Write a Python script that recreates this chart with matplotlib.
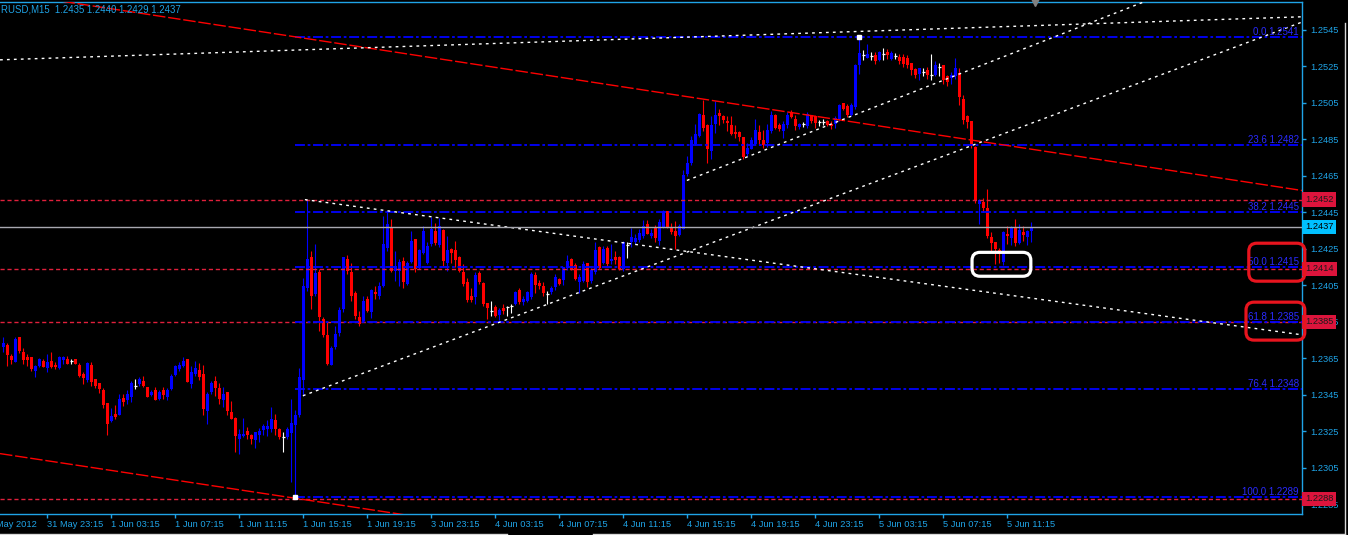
import matplotlib.pyplot as plt
import matplotlib.transforms as mtransforms
from matplotlib.patches import FancyBboxPatch
from matplotlib.lines import Line2D

# M15 candles, oldest first
opens = [
    1.23710, 1.23723, 1.23665, 1.23632, 1.23765, 1.23687, 1.23657, 1.23657, 1.23583, 1.23606,
    1.23637, 1.23595, 1.23636, 1.23616, 1.23595, 1.23643, 1.23646, 1.23634, 1.23646, 1.23614,
    1.23565, 1.23534, 1.23614, 1.23537, 1.23514, 1.23477, 1.23406, 1.23304, 1.23346, 1.23341,
    1.23433, 1.23422, 1.23439, 1.23501, 1.23510, 1.23526, 1.23492, 1.23450, 1.23477, 1.23428,
    1.23477, 1.23439, 1.23483, 1.23561, 1.23592, 1.23606, 1.23646, 1.23510, 1.23565, 1.23586,
    1.23565, 1.23364, 1.23464, 1.23526, 1.23488, 1.23422, 1.23468, 1.23355, 1.23322, 1.23209,
    1.23222, 1.23250, 1.23228, 1.23201, 1.23232, 1.23256, 1.23261, 1.23261, 1.23310, 1.23261,
    1.23219, 1.23219, 1.23243, 1.23283, 1.23338, 1.23534, 1.24033, 1.24203, 1.24002, 1.24124,
    1.23866, 1.23778, 1.23611, 1.23711, 1.23789, 1.23920, 1.24194, 1.24124, 1.24008, 1.23875,
    1.23857, 1.23975, 1.23902, 1.24015, 1.23990, 1.24048, 1.24257, 1.24372, 1.24130, 1.24130,
    1.24185, 1.24057, 1.24179, 1.24303, 1.24143, 1.24226, 1.24172, 1.24276, 1.24348, 1.24270,
    1.24354, 1.24175, 1.24252, 1.24243, 1.24203, 1.24124, 1.24070, 1.23990, 1.23984, 1.24117,
    1.24063, 1.23953, 1.23911, 1.23930, 1.23888, 1.23924, 1.23930, 1.23935, 1.23948, 1.24026,
    1.23957, 1.23966, 1.23984, 1.24108, 1.24061, 1.24048, 1.24002, 1.24012, 1.24039, 1.24084,
    1.24079, 1.24144, 1.24194, 1.24163, 1.24066, 1.24075, 1.24175, 1.24072, 1.24121, 1.24261,
    1.24175, 1.24254, 1.24181, 1.24206, 1.24203, 1.24139, 1.24272, 1.24285, 1.24290, 1.24297,
    1.24321, 1.24385, 1.24321, 1.24370, 1.24294, 1.24370, 1.24458, 1.24367, 1.24348, 1.24327,
    1.24358, 1.24658, 1.24722, 1.24826, 1.24867, 1.24982, 1.24931, 1.24785, 1.24935, 1.24995,
    1.24977, 1.24953, 1.24931, 1.24891, 1.24891, 1.24862, 1.24771, 1.24800, 1.24826, 1.24891,
    1.24849, 1.24831, 1.24895, 1.24982, 1.24931, 1.24898, 1.24931, 1.25000, 1.24964, 1.24916,
    1.24934, 1.24922, 1.24982, 1.24976, 1.24945, 1.24943, 1.24949, 1.24934, 1.24934, 1.24964,
    1.25049, 1.25031, 1.24985, 1.25025, 1.25255, 1.25313, 1.25295, 1.25309, 1.25313, 1.25286,
    1.25317, 1.25331, 1.25291, 1.25309, 1.25304, 1.25304, 1.25295, 1.25268, 1.25237, 1.25208,
    1.25218, 1.25231, 1.25204, 1.25204, 1.25249, 1.25258, 1.25195, 1.25186, 1.25195, 1.25213,
    1.25073, 1.24976, 1.24949, 1.24807, 1.24494, 1.24508, 1.24475, 1.24315, 1.24290, 1.24243,
    1.24180, 1.24333, 1.24312, 1.24372, 1.24284, 1.24344, 1.24315, 1.24348,
]
highs = [
    1.23765, 1.23734, 1.23674, 1.23765, 1.23765, 1.23705, 1.23674, 1.23657, 1.23614, 1.23650,
    1.23646, 1.23676, 1.23687, 1.23628, 1.23661, 1.23665, 1.23665, 1.23646, 1.23646, 1.23625,
    1.23574, 1.23628, 1.23628, 1.23537, 1.23514, 1.23486, 1.23406, 1.23377, 1.23395, 1.23455,
    1.23455, 1.23479, 1.23528, 1.23537, 1.23550, 1.23552, 1.23492, 1.23479, 1.23492, 1.23479,
    1.23492, 1.23488, 1.23565, 1.23614, 1.23632, 1.23656, 1.23646, 1.23610, 1.23634, 1.23625,
    1.23614, 1.23468, 1.23528, 1.23552, 1.23514, 1.23492, 1.23468, 1.23419, 1.23328, 1.23264,
    1.23322, 1.23273, 1.23237, 1.23247, 1.23269, 1.23292, 1.23310, 1.23383, 1.23347, 1.23268,
    1.23247, 1.23274, 1.23429, 1.23365, 1.23596, 1.24093, 1.24520, 1.24239, 1.24276, 1.24139,
    1.23875, 1.23851, 1.23720, 1.23829, 1.23930, 1.24203, 1.24215, 1.24175, 1.24021, 1.23911,
    1.23993, 1.23990, 1.24030, 1.24048, 1.24066, 1.24430, 1.24458, 1.24412, 1.24239, 1.24194,
    1.24203, 1.24185, 1.24348, 1.24303, 1.24248, 1.24375, 1.24285, 1.24426, 1.24394, 1.24421,
    1.24361, 1.24321, 1.24257, 1.24294, 1.24212, 1.24166, 1.24088, 1.24033, 1.24121, 1.24130,
    1.24070, 1.23953, 1.23966, 1.23942, 1.23924, 1.23948, 1.23939, 1.23948, 1.24021, 1.24033,
    1.23993, 1.24021, 1.24121, 1.24121, 1.24079, 1.24066, 1.24021, 1.24048, 1.24112, 1.24093,
    1.24152, 1.24217, 1.24199, 1.24170, 1.24115, 1.24185, 1.24175, 1.24144, 1.24290, 1.24266,
    1.24266, 1.24266, 1.24276, 1.24239, 1.24212, 1.24294, 1.24285, 1.24363, 1.24330, 1.24358,
    1.24407, 1.24407, 1.24358, 1.24381, 1.24412, 1.24461, 1.24458, 1.24394, 1.24403, 1.24385,
    1.24680, 1.24758, 1.24867, 1.24935, 1.24995, 1.25068, 1.24935, 1.24977, 1.25059, 1.25019,
    1.24986, 1.24977, 1.24977, 1.24931, 1.24898, 1.24862, 1.24831, 1.24862, 1.24964, 1.24931,
    1.24904, 1.24935, 1.25004, 1.24989, 1.24940, 1.24949, 1.25000, 1.25013, 1.24985, 1.24940,
    1.24945, 1.25000, 1.24982, 1.24982, 1.24958, 1.24962, 1.24958, 1.24949, 1.24976, 1.25044,
    1.25049, 1.25044, 1.25049, 1.25262, 1.25410, 1.25340, 1.25371, 1.25328, 1.25328, 1.25335,
    1.25353, 1.25346, 1.25335, 1.25322, 1.25317, 1.25317, 1.25313, 1.25268, 1.25244, 1.25244,
    1.25240, 1.25249, 1.25317, 1.25280, 1.25268, 1.25258, 1.25204, 1.25222, 1.25295, 1.25240,
    1.25091, 1.24982, 1.24953, 1.24812, 1.24521, 1.24530, 1.24576, 1.24344, 1.24290, 1.24254,
    1.24348, 1.24375, 1.24375, 1.24412, 1.24384, 1.24375, 1.24352, 1.24400,
]
lows = [
    1.23683, 1.23610, 1.23619, 1.23628, 1.23679, 1.23619, 1.23610, 1.23583, 1.23550, 1.23601,
    1.23601, 1.23574, 1.23595, 1.23592, 1.23592, 1.23619, 1.23619, 1.23619, 1.23619, 1.23546,
    1.23510, 1.23519, 1.23501, 1.23486, 1.23461, 1.23377, 1.23231, 1.23300, 1.23319, 1.23337,
    1.23388, 1.23401, 1.23413, 1.23483, 1.23501, 1.23492, 1.23439, 1.23443, 1.23422, 1.23421,
    1.23428, 1.23422, 1.23474, 1.23555, 1.23583, 1.23601, 1.23519, 1.23486, 1.23552, 1.23534,
    1.23341, 1.23291, 1.23455, 1.23446, 1.23401, 1.23382, 1.23337, 1.23319, 1.23137, 1.23128,
    1.23219, 1.23206, 1.23182, 1.23156, 1.23192, 1.23228, 1.23225, 1.23247, 1.23232, 1.23210,
    1.23137, 1.23210, 1.22974, 1.22885, 1.23329, 1.23443, 1.24021, 1.23920, 1.23993, 1.23802,
    1.23766, 1.23611, 1.23611, 1.23702, 1.23775, 1.23906, 1.24112, 1.23966, 1.23866, 1.23829,
    1.23848, 1.23906, 1.23870, 1.23975, 1.23975, 1.24039, 1.24239, 1.24121, 1.24075, 1.24048,
    1.24033, 1.24052, 1.24172, 1.24121, 1.24139, 1.24221, 1.24166, 1.24266, 1.24270, 1.24263,
    1.24157, 1.24130, 1.24175, 1.24148, 1.24121, 1.24048, 1.23961, 1.23961, 1.23948, 1.24057,
    1.23939, 1.23866, 1.23884, 1.23875, 1.23862, 1.23893, 1.23884, 1.23899, 1.23942, 1.23948,
    1.23944, 1.23957, 1.23975, 1.24006, 1.24030, 1.23993, 1.23948, 1.24002, 1.24024, 1.24053,
    1.24053, 1.24134, 1.24134, 1.24079, 1.24006, 1.24066, 1.24043, 1.24061, 1.24115, 1.24139,
    1.24166, 1.24157, 1.24166, 1.24166, 1.24134, 1.24130, 1.24199, 1.24261, 1.24276, 1.24290,
    1.24312, 1.24330, 1.24308, 1.24285, 1.24272, 1.24367, 1.24367, 1.24334, 1.24248, 1.24321,
    1.24358, 1.24649, 1.24709, 1.24818, 1.24862, 1.24895, 1.24722, 1.24740, 1.24886, 1.24931,
    1.24940, 1.24895, 1.24876, 1.24858, 1.24840, 1.24745, 1.24758, 1.24795, 1.24822, 1.24818,
    1.24804, 1.24807, 1.24886, 1.24909, 1.24898, 1.24858, 1.24912, 1.24967, 1.24903, 1.24909,
    1.24916, 1.24912, 1.24940, 1.24912, 1.24925, 1.24931, 1.24922, 1.24909, 1.24912, 1.24953,
    1.25013, 1.24971, 1.24976, 1.25018, 1.25208, 1.25286, 1.25295, 1.25286, 1.25262, 1.25280,
    1.25286, 1.25291, 1.25286, 1.25289, 1.25262, 1.25249, 1.25244, 1.25204, 1.25189, 1.25177,
    1.25200, 1.25182, 1.25177, 1.25200, 1.25195, 1.25153, 1.25140, 1.25153, 1.25182, 1.25036,
    1.24934, 1.24912, 1.24803, 1.24503, 1.24388, 1.24454, 1.24312, 1.24239, 1.24166, 1.24170,
    1.24162, 1.24275, 1.24272, 1.24266, 1.24275, 1.24293, 1.24272, 1.24290,
]
closes = [
    1.23734, 1.23668, 1.23641, 1.23756, 1.23688, 1.23641, 1.23641, 1.23592, 1.23606, 1.23646,
    1.23605, 1.23628, 1.23605, 1.23605, 1.23657, 1.23657, 1.23619, 1.23634, 1.23619, 1.23552,
    1.23543, 1.23625, 1.23523, 1.23501, 1.23483, 1.23392, 1.23291, 1.23333, 1.23328, 1.23428,
    1.23410, 1.23455, 1.23515, 1.23501, 1.23537, 1.23501, 1.23439, 1.23468, 1.23422, 1.23464,
    1.23450, 1.23477, 1.23552, 1.23606, 1.23614, 1.23637, 1.23519, 1.23577, 1.23599, 1.23550,
    1.23373, 1.23455, 1.23515, 1.23488, 1.23428, 1.23455, 1.23362, 1.23319, 1.23222, 1.23233,
    1.23237, 1.23231, 1.23206, 1.23247, 1.23250, 1.23279, 1.23279, 1.23319, 1.23261, 1.23219,
    1.23219, 1.23261, 1.23298, 1.23338, 1.23547, 1.24048, 1.24194, 1.23993, 1.24117, 1.23875,
    1.23778, 1.23620, 1.23706, 1.23784, 1.23917, 1.24203, 1.24130, 1.23990, 1.23884, 1.23839,
    1.23966, 1.23911, 1.24024, 1.24002, 1.24044, 1.24276, 1.24385, 1.24130, 1.24157, 1.24179,
    1.24070, 1.24175, 1.24294, 1.24139, 1.24243, 1.24348, 1.24266, 1.24357, 1.24281, 1.24375,
    1.24185, 1.24245, 1.24226, 1.24190, 1.24130, 1.24057, 1.23971, 1.23971, 1.24106, 1.24070,
    1.23948, 1.23924, 1.23911, 1.23884, 1.23917, 1.23911, 1.23930, 1.23935, 1.24011, 1.23957,
    1.23975, 1.24012, 1.24115, 1.24053, 1.24048, 1.24006, 1.24002, 1.24035, 1.24097, 1.24057,
    1.24148, 1.24185, 1.24139, 1.24084, 1.24097, 1.24166, 1.24066, 1.24134, 1.24243, 1.24144,
    1.24248, 1.24166, 1.24194, 1.24188, 1.24139, 1.24285, 1.24272, 1.24316, 1.24312, 1.24339,
    1.24376, 1.24334, 1.24339, 1.24312, 1.24399, 1.24458, 1.24370, 1.24345, 1.24321, 1.24376,
    1.24654, 1.24722, 1.24844, 1.24880, 1.24989, 1.24913, 1.24795, 1.24931, 1.24982, 1.24977,
    1.24958, 1.24940, 1.24880, 1.24880, 1.24862, 1.24753, 1.24804, 1.24844, 1.24904, 1.24849,
    1.24818, 1.24904, 1.24986, 1.24913, 1.24909, 1.24934, 1.24985, 1.24971, 1.24922, 1.24934,
    1.24934, 1.24989, 1.24949, 1.24940, 1.24945, 1.24943, 1.24927, 1.24922, 1.24967, 1.25040,
    1.25018, 1.24982, 1.25040, 1.25255, 1.25322, 1.25313, 1.25317, 1.25309, 1.25280, 1.25328,
    1.25317, 1.25313, 1.25322, 1.25309, 1.25277, 1.25262, 1.25255, 1.25231, 1.25204, 1.25240,
    1.25218, 1.25204, 1.25204, 1.25258, 1.25249, 1.25177, 1.25167, 1.25204, 1.25240, 1.25080,
    1.24958, 1.24945, 1.24812, 1.24512, 1.24516, 1.24475, 1.24321, 1.24284, 1.24248, 1.24221,
    1.24344, 1.24321, 1.24363, 1.24284, 1.24352, 1.24326, 1.24348, 1.24370,
]

date_ticks = [11, 27, 43, 59, 75, 91, 107, 123, 139, 155, 171, 187, 203, 219, 235, 251]
date_labels = ["31 May 23:15", "1 Jun 03:15", "1 Jun 07:15", "1 Jun 11:15", "1 Jun 15:15",
               "1 Jun 19:15", "3 Jun 23:15", "4 Jun 03:15", "4 Jun 07:15", "4 Jun 11:15",
               "4 Jun 15:15", "4 Jun 19:15", "4 Jun 23:15", "5 Jun 03:15", "5 Jun 07:15",
               "5 Jun 11:15"]
price_ticks = [1.2545, 1.2525, 1.2505, 1.2485, 1.2465, 1.2445, 1.2425,
               1.2405, 1.2385, 1.2365, 1.2345, 1.2325, 1.2305, 1.2285]

fib_levels = [0.0, 23.6, 38.2, 50.0, 61.8, 76.4, 100.0]
fib_prices = [1.2541, 1.2482, 1.2445, 1.2415, 1.2385, 1.2348, 1.2289]
fib_start = 73          # bar of the spike low where the retracement was anchored
fib_anchors = [(73, 1.2289), (214, 1.2541)]
red_levels = [1.2452, 1.2414, 1.2385, 1.2288]
bid_price = 1.2437
header = "RUSD,M15  1.2435 1.2440 1.2429 1.2437"

# trend lines as (bar, price) end points
red_trends = [[(-0.83, 1.25659), (324.7, 1.24570)],
              [(-0.83, 1.23128), (112.0, 1.22754)]]
white_trends = [[(74.9, 1.23445), (324.7, 1.25493)],
                [(170.9, 1.24625), (324.7, 1.25942)],
                [(75.4, 1.24520), (324.7, 1.23779)],
                [(-0.83, 1.25286), (324.7, 1.25522)]]
# highlight boxes: (bar0, price0, bar1, price1, colour)
highlight_boxes = [(311.4, 1.24073, 325.4, 1.24281, '#e8141e'),
                   (310.7, 1.23750, 325.4, 1.23958, '#e8141e'),
                   (242.2, 1.24100, 256.9, 1.24231, 'white')]

FG = '#1fa3e6'
plt.rcParams['font.family'] = ['Liberation Sans', 'DejaVu Sans']
FS = 6.7

fig = plt.figure(figsize=(13.48, 5.35), dpi=100, facecolor='black')
ax = fig.add_axes([0, 21 / 535, 1302 / 1348, 512 / 535], facecolor='black')
ax.set_xlim(-0.83, 324.7)
ax.set_ylim(1.22797, 1.25603)

# candles
n = len(closes)
for i in range(n):
    o, h, l, c = opens[i], highs[i], lows[i], closes[i]
    if c > o:
        col = '#0000ff'
    elif c < o:
        col = '#ff0000'
    else:
        col = 'white'
    ax.vlines(i, l, h, color=col, lw=0.8, zorder=3)
    if c == o:
        ax.hlines(c, i - 0.4, i + 0.4, color=col, lw=0.9, zorder=3)
    else:
        ax.bar(i, max(abs(c - o), 0.00004), bottom=min(o, c), width=0.72,
               color=col, linewidth=0, zorder=3)

# horizontal lines
for p in red_levels:
    ax.axhline(p, color='#e0203c', lw=1.0, ls=(0, (3, 2)), zorder=4)
for lvl, p in zip(fib_levels, fib_prices):
    ax.plot([fib_start, 324.7], [p, p], color='#0000ff', lw=1.3,
            ls=(0, (5.5, 1.5, 1.5, 1.5)), zorder=4)
    ax.text(1299 / 1302, p, f"{lvl:.1f} {p:.4f}", transform=ax.get_yaxis_transform(),
            ha='right', va='bottom', color='#2a2aff', fontsize=FS + 0.3, zorder=6)
ax.axhline(bid_price, color='#a8a8b0', lw=1.0, zorder=5)

# trend lines
for (x0, y0), (x1, y1) in red_trends:
    ax.plot([x0, x1], [y0, y1], color='#ff0000', lw=1.0, ls=(0, (9, 2)), zorder=4)
for (x0, y0), (x1, y1) in white_trends:
    ax.plot([x0, x1], [y0, y1], color='white', lw=1.0, ls=(0, (2, 3)), zorder=4)
for bx, by in fib_anchors:
    ax.plot(bx, by, marker='s', ms=3.5, color='white', zorder=6)

# chart shift marker
ax.plot(258, 1.25603, marker='v', ms=6, color='#808080', clip_on=False, zorder=7)

# axes styling
ax.spines['left'].set_visible(False)
for side in ['top', 'right', 'bottom']:
    ax.spines[side].set_color(FG)
    ax.spines[side].set_linewidth(1.0)
ax.yaxis.tick_right()
ax.set_yticks(price_ticks, [f"{p:.4f}" for p in price_ticks])
ax.set_xticks(date_ticks, date_labels)
for lbl in ax.get_xticklabels():
    lbl.set_ha('left')
ax.tick_params(axis='y', colors=FG, labelsize=FS, length=3, width=1, pad=3)
ax.tick_params(axis='x', colors=FG, labelsize=FS, length=3, width=1, pad=1)
ax.annotate("31 May 2012", xy=(-5, 0), xycoords=('data', 'axes fraction'),
            xytext=(0, -4.2), textcoords='offset points', ha='left', va='top',
            color=FG, fontsize=FS, annotation_clip=False)

# price labels of the horizontal lines
trans = ax.get_yaxis_transform()
for p in red_levels:
    ax.text(1.0025, p, f"{p:.4f}", transform=trans, ha='left', va='center',
            color='#1a1a1a', fontsize=FS, clip_on=False, zorder=8,
            bbox=dict(boxstyle='square,pad=0.3', fc='#dc143c', ec='none'))
ax.text(1.0025, bid_price, f"{bid_price:.4f}", transform=trans, ha='left', va='center',
        color='black', fontsize=FS, clip_on=False, zorder=8,
        bbox=dict(boxstyle='square,pad=0.3', fc='#00c0ff', ec='none'))

fig.text(1 / 1348, (535 - 9) / 535, header, color=FG, fontsize=FS + 0.2,
         ha='left', va='center')

# hand-drawn highlight boxes, placed in pixel space so the corners stay round
fig.canvas.draw()
ident = mtransforms.IdentityTransform()
for b0, p0, b1, p1, col in highlight_boxes:
    (x0, y0), (x1, y1) = ax.transData.transform([(b0, p0), (b1, p1)])
    box = FancyBboxPatch((x0, y0), x1 - x0, y1 - y0,
                         boxstyle='round,pad=0,rounding_size=8',
                         fill=False, ec=col, lw=2.3, transform=ident, zorder=9)
    fig.add_artist(box)

# window frame
fig.add_artist(Line2D([1345, 1345], [0, 512], color='#d8d8d8', lw=1, transform=ident))
fig.add_artist(Line2D([0, 507], [1.5, 1.5], color='#d8d8d8', lw=1, transform=ident))
fig.add_artist(Line2D([593, 1345], [1.5, 1.5], color='#d8d8d8', lw=1, transform=ident))

fig.savefig('out.png', dpi=100, facecolor='black')
